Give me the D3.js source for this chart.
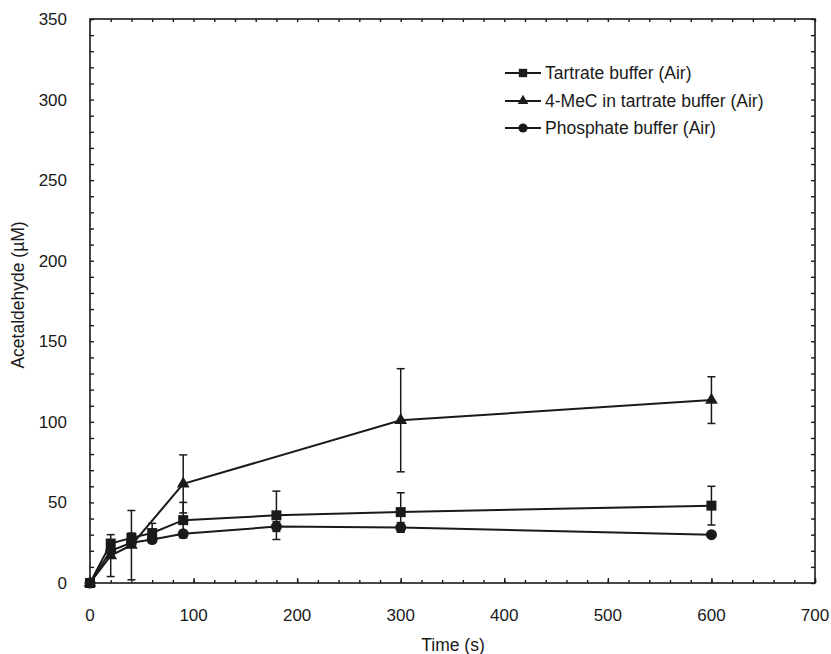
<!DOCTYPE html>
<html><head><meta charset="utf-8">
<script src="https://cdn.jsdelivr.net/npm/d3@7"></script>
<style>body{margin:0;background:#fff;} svg{display:block;} text{font-family:"Liberation Sans",Arial,sans-serif;fill:#1a1a1a;}</style>
</head><body>
<svg id="c" width="831" height="654"></svg>
<script>
const seriesNames = ["Tartrate buffer (Air)", "4-MeC in tartrate buffer (Air)", "Phosphate buffer (Air)"];
const tartrateTime = [0, 20, 40, 60, 90, 180, 300, 600];
const tartrateValue = [0, 24.5, 28, 31, 39, 42, 44, 48];
const tartrateErr = [0, 2, 3, 6, 11, 15, 12, 12];
const mecTime = [0, 20, 40, 90, 300, 600];
const mecValue = [0, 17, 23.5, 61.5, 101, 113.5];
const mecErr = [0, 13, 21.5, 18, 32, 14.5];
const phosTime = [0, 20, 40, 60, 90, 180, 300, 600];
const phosValue = [0, 20, 25, 27, 30.5, 35, 34.5, 30];
const phosErr = [0, 2, 2, 2, 2, 3, 3, 1];
const xTicks = [0, 100, 200, 300, 400, 500, 600, 700];
const yTicks = [0, 50, 100, 150, 200, 250, 300, 350];

const svg = d3.select("#c");
const L = 90, R = 815, T = 19, B = 583;
const x = d3.scaleLinear().domain([0, 700]).range([L, R]);
const y = d3.scaleLinear().domain([0, 350]).range([B, T]);
const ink = "#1a1a1a";

// frame
svg.append("rect").attr("x", L).attr("y", T).attr("width", R - L).attr("height", B - T)
  .attr("fill", "none").attr("stroke", ink).attr("stroke-width", 1.6);

// axes (inward ticks)
const xMinor = d3.range(0, 701, 20);
const yMinor = d3.range(0, 351, 10);
const gx = svg.append("g").attr("transform", `translate(0,${B})`);
gx.call(d3.axisTop(x).tickValues(xMinor).tickSize(3).tickFormat(""));
gx.select(".domain").remove();
const gx2 = svg.append("g").attr("transform", `translate(0,${B})`);
gx2.call(d3.axisTop(x).tickValues(xTicks).tickSize(5).tickFormat(""));
gx2.select(".domain").remove();
const gxt = svg.append("g").attr("transform", `translate(0,${T})`);
gxt.call(d3.axisBottom(x).tickValues(xMinor).tickSize(3).tickFormat(""));
gxt.select(".domain").remove();
const gy = svg.append("g").attr("transform", `translate(${L},0)`);
gy.call(d3.axisRight(y).tickValues(yMinor).tickSize(4).tickFormat(""));
gy.select(".domain").remove();
const gyr = svg.append("g").attr("transform", `translate(${R},0)`);
gyr.call(d3.axisLeft(y).tickValues(yMinor).tickSize(4).tickFormat(""));
gyr.select(".domain").remove();
svg.selectAll(".tick line").attr("stroke", ink).attr("stroke-width", 1.4);

// tick labels
svg.append("g").selectAll("text").data(xTicks).join("text")
  .attr("x", d => x(d)).attr("y", 621).attr("text-anchor", "middle")
  .attr("font-size", 17).text(d => d);
svg.append("g").selectAll("text").data(yTicks).join("text")
  .attr("x", 67).attr("y", d => y(d) + 6).attr("text-anchor", "end")
  .attr("font-size", 17).text(d => d);

// axis titles
svg.append("text").attr("x", 453).attr("y", 651).attr("text-anchor", "middle")
  .attr("font-size", 17.5).text("Time (s)");
svg.append("text").attr("transform", `translate(24,${(T + B) / 2 - 6}) rotate(-90)`)
  .attr("text-anchor", "middle").attr("font-size", 17.5).text("Acetaldehyde (µM)");

const series = [
  { t: tartrateTime, v: tartrateValue, e: tartrateErr, shape: d3.symbolSquare, size: 100 },
  { t: mecTime, v: mecValue, e: mecErr, shape: d3.symbolTriangle, size: 70 },
  { t: phosTime, v: phosValue, e: phosErr, shape: d3.symbolCircle, size: 95 }
];

const line = d3.line().x(d => x(d.t)).y(d => y(d.v));
series.forEach(s => {
  const pts = s.t.map((t, i) => ({ t, v: s.v[i], e: s.e[i] }));
  const g = svg.append("g");
  pts.filter(p => p.e > 0).forEach(p => {
    g.append("line").attr("x1", x(p.t)).attr("x2", x(p.t))
      .attr("y1", y(p.v - p.e)).attr("y2", y(p.v + p.e)).attr("stroke", ink).attr("stroke-width", 1.5);
    [p.v - p.e, p.v + p.e].forEach(v => g.append("line")
      .attr("x1", x(p.t) - 4).attr("x2", x(p.t) + 4).attr("y1", y(v)).attr("y2", y(v))
      .attr("stroke", ink).attr("stroke-width", 1.5));
  });
  g.append("path").datum(pts).attr("d", line).attr("fill", "none").attr("stroke", ink).attr("stroke-width", 2);
  g.selectAll("path.m").data(pts).join("path").attr("class", "m")
    .attr("transform", p => `translate(${x(p.t)},${y(p.v)})`)
    .attr("d", d3.symbol().type(s.shape).size(s.size)).attr("fill", ink);
});

// legend
const legY = [73, 101, 128];
series.forEach((s, i) => {
  const g = svg.append("g").attr("transform", `translate(0,${legY[i]})`);
  g.append("line").attr("x1", 505).attr("x2", 541).attr("y1", 0).attr("y2", 0).attr("stroke", ink).attr("stroke-width", 2);
  g.append("path").attr("transform", "translate(523,0)")
    .attr("d", d3.symbol().type(s.shape).size(s.size * 0.7)).attr("fill", ink);
  g.append("text").attr("x", 545).attr("y", 6).attr("font-size", 17.5).text(seriesNames[i]);
});
</script>
</body></html>
